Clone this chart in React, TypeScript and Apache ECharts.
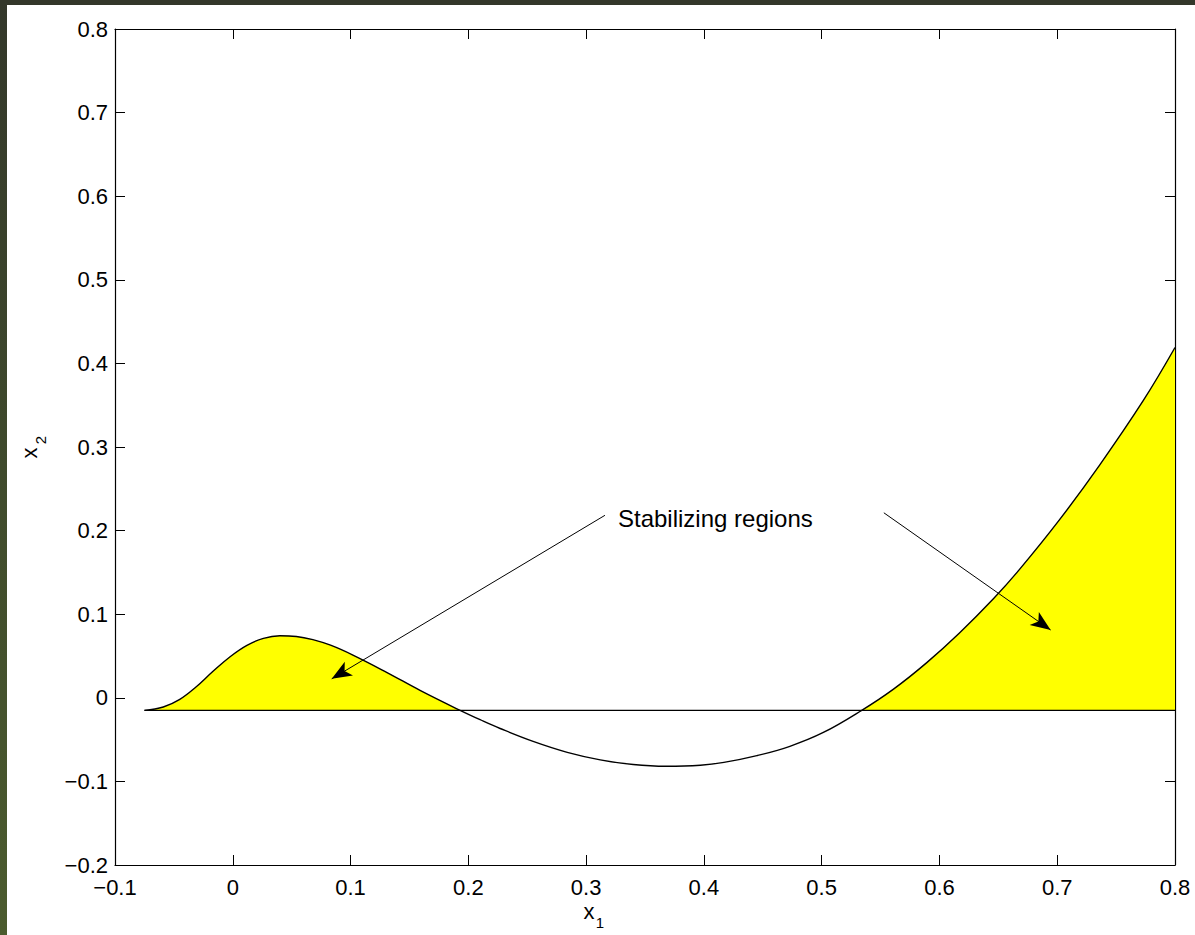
import React, { useEffect, useRef } from "react";
import * as echarts from "echarts";

// Curve
const curveX = [-0.075, -0.059, -0.045, -0.031, -0.017, -0.002, 0.012, 0.026, 0.040, 0.054, 0.068, 0.083, 0.102, 0.131, 0.159, 0.193, 0.210, 0.227, 0.255, 0.284, 0.312, 0.340, 0.368, 0.397, 0.417, 0.445, 0.473, 0.501, 0.534, 0.561, 0.589, 0.617, 0.646, 0.668, 0.702, 0.736, 0.773, 0.800];
const curveY = [-0.015, -0.011, -0.0019, 0.0132, 0.0314, 0.0494, 0.0627, 0.0711, 0.0742, 0.0734, 0.0696, 0.0629, 0.0511, 0.0302, 0.0089, -0.015, -0.0262, -0.0367, -0.0521, -0.0652, -0.0742, -0.0798, -0.0819, -0.0807, -0.0773, -0.0692, -0.0580, -0.0418, -0.015, 0.0104, 0.0418, 0.0776, 0.1188, 0.1536, 0.2131, 0.2784, 0.3554, 0.419];

const baselineY = -0.015;
const baselineX = [-0.075, 0.8];

// stabilizing regions (curve above baseline)
const leftRegionX = [-0.075, 0.193];
const rightRegionX = [0.534, 0.8];

// annotation arrows: [startX, startY, endX, endY]
const arrows = [
  [0.316, 0.2183, 0.084, 0.0227],
  [0.5528, 0.2213, 0.6944, 0.0811],
];
const annotationText = "Stabilizing regions";

const xTicks = { min: -0.1, max: 0.8, interval: 0.1 };
const yTicks = { min: -0.2, max: 0.8, interval: 0.1 };

const FONT = "'Liberation Sans', Arial, Helvetica, sans-serif";
const FS = 22;

function fmt(v: number): string {
  const r = Math.round(v * 10) / 10;
  if (r === 0) return "0";
  return (r < 0 ? "\u2212" : "") + Math.abs(r).toFixed(1);
}

export default function App() {
  const ref = useRef<HTMLDivElement>(null);
  useEffect(() => {
    document.body.style.margin = "0";
    if (!ref.current) return;
    const chart = echarts.init(ref.current, undefined, { renderer: "svg" });
    const pts = curveX.map((x, i) => [x, curveY[i]]);
    const leftPts = pts.filter((p) => p[0] >= leftRegionX[0] && p[0] <= leftRegionX[1]);
    const rightPts = pts.filter((p) => p[0] >= rightRegionX[0] && p[0] <= rightRegionX[1]);

    const axisCommon = {
      type: "value" as const,
      axisLine: { show: true, onZero: false, lineStyle: { color: "#000", width: 1.2 } },
      axisTick: { show: true, inside: true, length: 10, lineStyle: { color: "#000", width: 1 } },
      splitLine: { show: false },
    };
    const labelStyle = { color: "#000", fontSize: FS, fontFamily: FONT };
    const smooth = 0.4;

    chart.setOption({
      animation: false,
      backgroundColor: "#fff",
      grid: { left: 115, top: 29, width: 1060, height: 836, containLabel: false },
      xAxis: [
        { ...axisCommon, position: "bottom", ...xTicks, axisLabel: { ...labelStyle, margin: 11, formatter: fmt } },
        { ...axisCommon, position: "top", ...xTicks, axisLabel: { show: false } },
      ],
      yAxis: [
        { ...axisCommon, position: "left", ...yTicks, axisLabel: { ...labelStyle, margin: 7, formatter: fmt } },
        { ...axisCommon, position: "right", ...yTicks, axisLabel: { show: false } },
      ],
      series: [
        {
          type: "line",
          data: leftPts,
          smooth,
          symbol: "none",
          lineStyle: { width: 0 },
          areaStyle: { color: "#ffff00", opacity: 1, origin: baselineY },
          z: 1,
          silent: true,
        },
        {
          type: "line",
          data: rightPts,
          smooth,
          symbol: "none",
          lineStyle: { width: 0 },
          areaStyle: { color: "#ffff00", opacity: 1, origin: baselineY },
          z: 1,
          silent: true,
        },
        {
          type: "line",
          data: baselineX.map((x) => [x, baselineY]),
          symbol: "none",
          lineStyle: { color: "#000", width: 1.3 },
          z: 3,
          silent: true,
          markLine: {
            silent: true,
            symbol: ["none", "arrow"],
            symbolSize: [12, 20],
            lineStyle: { color: "#000", width: 1, type: "solid" },
            label: { show: false },
            data: arrows.map((a) => [{ coord: [a[0], a[1]] }, { coord: [a[2], a[3]] }]),
          },
        },
        {
          type: "line",
          data: pts,
          smooth,
          symbol: "none",
          lineStyle: { color: "#000", width: 1.4 },
          z: 4,
          silent: true,
        },
      ],
      graphic: [
        { type: "text", x: 618, y: 518, style: { text: annotationText, font: `24px ${FONT}`, fill: "#000", verticalAlign: "middle", align: "left" } },
        { type: "text", x: 589, y: 911, style: { text: "x", font: `${FS}px ${FONT}`, fill: "#000", verticalAlign: "middle", align: "center" } },
        { type: "text", x: 600, y: 922, style: { text: "1", font: `15px ${FONT}`, fill: "#000", verticalAlign: "middle", align: "center" } },
        { type: "text", x: 29, y: 453, rotation: Math.PI / 2, style: { text: "x", font: `${FS}px ${FONT}`, fill: "#000", verticalAlign: "middle", align: "center" } },
        { type: "text", x: 40, y: 440, rotation: Math.PI / 2, style: { text: "2", font: `15px ${FONT}`, fill: "#000", verticalAlign: "middle", align: "center" } },
      ],
    });
    return () => chart.dispose();
  }, []);
  return (
    <div style={{ position: "relative", width: 1195, height: 935 }}>
      <div ref={ref} style={{ position: "absolute", left: 0, top: 0, width: 1195, height: 935 }} />
      <div style={{ position: "absolute", left: 0, top: 0, width: 1195, height: 5, background: "#33372a" }} />
      <div style={{ position: "absolute", left: 0, top: 0, width: 7, height: 935, background: "linear-gradient(#33372a, #3f4a2c 50%, #4b5b2e)" }} />
    </div>
  );
}
